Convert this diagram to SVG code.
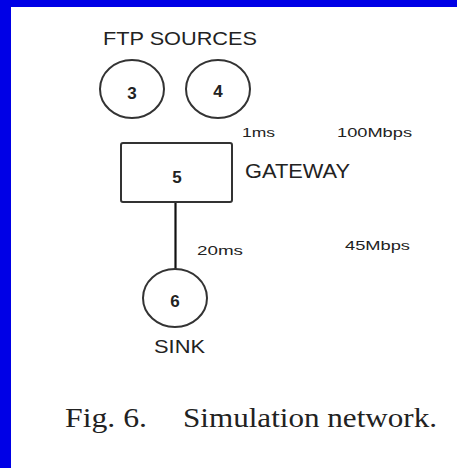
<svg xmlns="http://www.w3.org/2000/svg" width="457" height="468" viewBox="0 0 457 468">
<style>
.lbl{font-family:"Liberation Sans",Arial,sans-serif;fill:#222;}
.num{font-family:"Liberation Sans",Arial,sans-serif;font-size:17px;font-weight:bold;fill:#222;text-anchor:middle;}
.node{fill:#fff;stroke:#333;stroke-width:2;}
.cap{font-family:"Liberation Serif","Times New Roman",serif;font-size:27px;fill:#222;}
</style>
<rect x="0" y="0" width="457" height="468" fill="#fff"/>
<rect x="0" y="0" width="457" height="7" fill="#0000e6"/>
<rect x="0" y="0" width="11" height="468" fill="#0000e6"/>
<text class="lbl" x="103" y="45" font-size="19" textLength="154" lengthAdjust="spacingAndGlyphs">FTP SOURCES</text>
<g id="connectors">
<line x1="175.5" y1="202" x2="175.5" y2="269" stroke="#111" stroke-width="2.2"/>
</g>
<g id="node3">
<ellipse class="node" cx="132" cy="89" rx="32" ry="29"/>
<text class="num" x="132" y="99">3</text>
</g>
<g id="node4">
<ellipse class="node" cx="218" cy="89" rx="32" ry="29"/>
<text class="num" x="218" y="97">4</text>
</g>
<g id="node5">
<rect class="node" x="121" y="143" width="111" height="59" rx="2"/>
<text class="num" x="177" y="183">5</text>
</g>
<g id="node6">
<ellipse class="node" cx="175" cy="298" rx="32" ry="29"/>
<text class="num" x="175" y="307">6</text>
</g>
<text class="lbl" x="242" y="137" font-size="13" textLength="33" lengthAdjust="spacingAndGlyphs">1ms</text>
<text class="lbl" x="337" y="137" font-size="13" textLength="75" lengthAdjust="spacingAndGlyphs">100Mbps</text>
<text class="lbl" x="245" y="178" font-size="20" textLength="105" lengthAdjust="spacingAndGlyphs">GATEWAY</text>
<text class="lbl" x="197" y="255" font-size="13" textLength="46" lengthAdjust="spacingAndGlyphs">20ms</text>
<text class="lbl" x="345" y="250" font-size="13" textLength="65" lengthAdjust="spacingAndGlyphs">45Mbps</text>
<text class="lbl" x="154" y="353" font-size="18" textLength="51" lengthAdjust="spacingAndGlyphs">SINK</text>
<text class="cap" x="65" y="427" textLength="82" lengthAdjust="spacingAndGlyphs">Fig. 6.</text>
<text class="cap" x="183" y="427" textLength="254" lengthAdjust="spacingAndGlyphs">Simulation network.</text>
</svg>
